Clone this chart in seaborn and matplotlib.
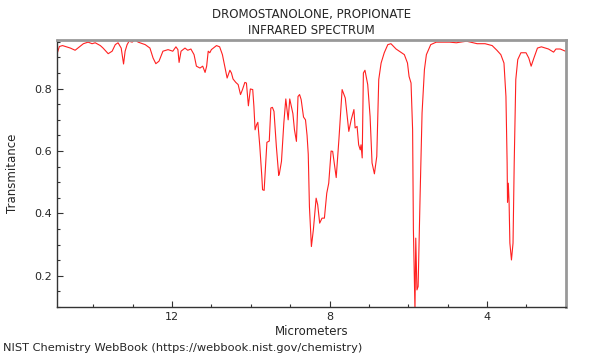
import numpy as np
import pandas as pd
import seaborn as sns
import matplotlib.pyplot as plt
from matplotlib.ticker import MultipleLocator

# Spectrum (wavelength in micrometers, transmittance)
wavelength = [
    14.91, 14.86, 14.78, 14.58, 14.46, 14.25, 14.13, 14.03, 13.95, 13.82,
    13.75, 13.62, 13.52, 13.44, 13.37, 13.29, 13.23, 13.19, 13.14, 13.09,
    13.01, 12.94, 12.86, 12.68, 12.56, 12.48, 12.41, 12.33, 12.23, 12.10,
    11.98, 11.90, 11.85, 11.82, 11.77, 11.67, 11.60, 11.52, 11.44, 11.38,
    11.29, 11.22, 11.16, 11.12, 11.08, 11.04, 11.00, 10.87, 10.79, 10.72,
    10.66, 10.60, 10.53, 10.49, 10.45, 10.38, 10.32, 10.26, 10.21, 10.15,
    10.11, 10.06, 10.01, 9.95, 9.92, 9.89, 9.85, 9.82, 9.77, 9.72,
    9.70, 9.66, 9.62, 9.59, 9.53, 9.49, 9.45, 9.41, 9.35, 9.29,
    9.27, 9.22, 9.16, 9.11, 9.05, 9.01, 8.93, 8.89, 8.84, 8.80,
    8.76, 8.72, 8.66, 8.61, 8.57, 8.54, 8.51, 8.46, 8.41, 8.34,
    8.30, 8.25, 8.19, 8.13, 8.07, 8.02, 7.96, 7.92, 7.83, 7.76,
    7.68, 7.60, 7.51, 7.45, 7.38, 7.35, 7.30, 7.26, 7.22, 7.20,
    7.17, 7.14, 7.10, 7.03, 6.97, 6.92, 6.86, 6.80, 6.75, 6.69,
    6.61, 6.52, 6.44, 6.31, 6.23, 6.10, 6.02, 5.98, 5.93, 5.89,
    5.87, 5.83, 5.81, 5.78, 5.75, 5.70, 5.65, 5.59, 5.54, 5.43,
    5.29, 4.95, 4.78, 4.52, 4.25, 4.05, 3.87, 3.75, 3.65, 3.57,
    3.52, 3.49, 3.48, 3.46, 3.44, 3.42, 3.38, 3.34, 3.31, 3.27,
    3.22, 3.14, 3.01, 2.94, 2.88, 2.81, 2.72, 2.62, 2.44, 2.31,
    2.25, 2.14, 2.01,
]
transmittance = [
    0.915, 0.935, 0.938, 0.930, 0.923, 0.944, 0.949, 0.944, 0.947, 0.938,
    0.930, 0.912, 0.920, 0.941, 0.947, 0.930, 0.879, 0.920, 0.941, 0.952,
    0.949, 0.957, 0.949, 0.941, 0.930, 0.898, 0.880, 0.888, 0.920, 0.925,
    0.920, 0.934, 0.925, 0.884, 0.920, 0.930, 0.923, 0.927, 0.909, 0.872,
    0.866, 0.872, 0.852, 0.872, 0.920, 0.915, 0.925, 0.938, 0.934, 0.909,
    0.872, 0.834, 0.859, 0.850, 0.831, 0.820, 0.813, 0.781, 0.797, 0.820,
    0.818, 0.745, 0.799, 0.797, 0.743, 0.668, 0.685, 0.692, 0.615, 0.520,
    0.476, 0.474, 0.562, 0.628, 0.632, 0.738, 0.740, 0.727, 0.615, 0.522,
    0.530, 0.567, 0.690, 0.767, 0.700, 0.767, 0.720, 0.668, 0.631, 0.775,
    0.781, 0.765, 0.709, 0.700, 0.650, 0.590, 0.422, 0.294, 0.348, 0.449,
    0.428, 0.369, 0.385, 0.385, 0.465, 0.497, 0.600, 0.599, 0.515, 0.640,
    0.797, 0.770, 0.663, 0.700, 0.733, 0.674, 0.679, 0.620, 0.604, 0.620,
    0.578, 0.850, 0.859, 0.813, 0.711, 0.562, 0.527, 0.583, 0.829, 0.882,
    0.915, 0.941, 0.944, 0.927, 0.920, 0.909, 0.882, 0.839, 0.818, 0.668,
    0.348, 0.090, 0.321, 0.155, 0.166, 0.455, 0.722, 0.861, 0.909, 0.941,
    0.949, 0.949, 0.947, 0.952, 0.944, 0.944, 0.938, 0.923, 0.909, 0.882,
    0.775, 0.562, 0.436, 0.497, 0.436, 0.305, 0.251, 0.305, 0.562, 0.829,
    0.893, 0.915, 0.915, 0.898, 0.872, 0.898, 0.930, 0.934, 0.927, 0.917,
    0.927, 0.927, 0.920,
]

df = pd.DataFrame({'um': wavelength, 'T': transmittance})

sns.set_style('white')
plt.rcParams['font.family'] = ['DejaVu Sans']

fig = plt.figure(figsize=(6, 3.6), dpi=100)
ax = fig.add_axes([0.095, 0.147, 0.848, 0.742])

sns.lineplot(data=df, x='um', y='T', ax=ax, color='#ff2020', lw=0.8, sort=False)

ax.set_xlim(14.92, 2.0)
ax.set_ylim(0.1, 0.956)

ax.xaxis.set_major_locator(MultipleLocator(4))
ax.xaxis.set_minor_locator(MultipleLocator(1))
ax.yaxis.set_major_locator(MultipleLocator(0.2))
ax.yaxis.set_minor_locator(MultipleLocator(0.05))
ax.tick_params(which='both', direction='in', labelsize=8, color='#333333',
               top=False, right=False, bottom=True, left=True)
ax.tick_params(which='major', length=4, width=0.8)
ax.tick_params(which='minor', length=2.5, width=0.8)

for side in ['left', 'bottom']:
    ax.spines[side].set_color('#333333')
    ax.spines[side].set_linewidth(1.0)
for side in ['top', 'right']:
    ax.spines[side].set_color('#999999')
    ax.spines[side].set_linewidth(2.0)

ax.set_xlabel('Micrometers', fontsize=8.5, labelpad=2)
ax.set_ylabel('Transmitance', fontsize=8.5, labelpad=11)
ax.set_title('DROMOSTANOLONE, PROPIONATE\nINFRARED SPECTRUM', fontsize=8.5,
             pad=4, linespacing=1.3)

fig.text(0.005, 0.02, 'NIST Chemistry WebBook (https://webbook.nist.gov/chemistry)',
         fontsize=8.2, ha='left', va='bottom')

fig.savefig('out.png', dpi=100)
